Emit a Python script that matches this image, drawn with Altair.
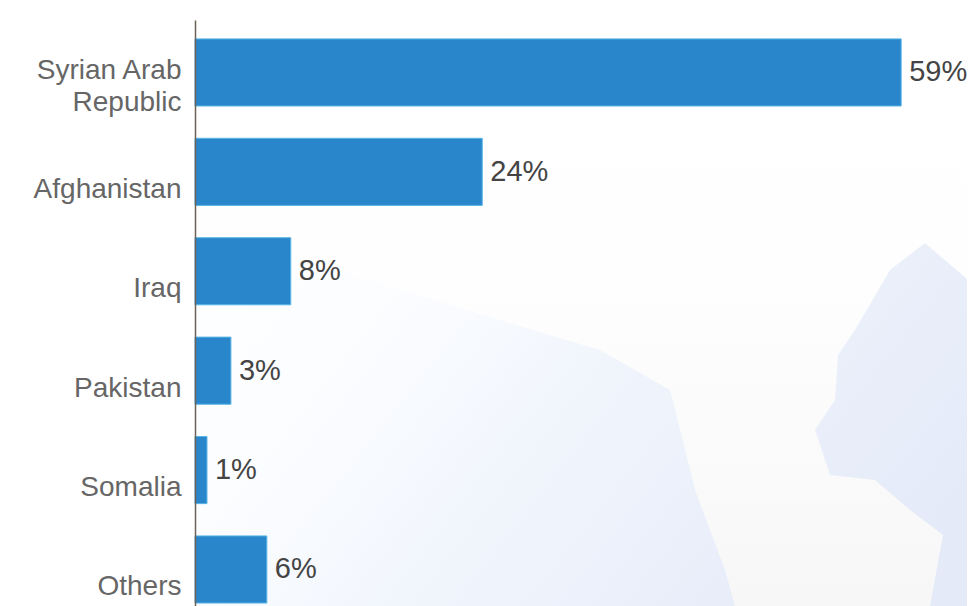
import altair as alt
import pandas as pd

countries = ["Syrian Arab Republic", "Afghanistan", "Iraq", "Pakistan", "Somalia", "Others"]
values = [59, 24, 8, 3, 1, 6]
texts = ["59%", "24%", "8%", "3%", "1%", "6%"]
land_x = [195, 300, 600, 670, 680, 695, 725, 735, 930, 943, 910, 875, 830, 815, 835, 838, 855, 890, 925, 967]
land_y = [230, 260, 350, 390, 430, 490, 570, 606, 606, 535, 510, 480, 475, 430, 400, 355, 330, 270, 243, 279]

PLOT_W = 772
PLOT_H = 586

df = pd.DataFrame({"country": countries, "value": values, "text": texts})

backdrop = alt.Chart(pd.DataFrame({"a": [0]})).mark_rect(
    fill=alt.LinearGradient(
        gradient="linear", x1=0, y1=0.2, x2=1, y2=0.8,
        stops=[
            alt.GradientStop(offset=0.0, color="#ffffff"),
            alt.GradientStop(offset=0.3, color="#fcfdff"),
            alt.GradientStop(offset=0.6, color="#eff4fc"),
            alt.GradientStop(offset=1.0, color="#e4eaf8"),
        ],
    )
).encode(x=alt.value(0), x2=alt.value(PLOT_W), y=alt.value(0), y2=alt.value(PLOT_H))

ring = [[a, b] for a, b in zip(land_x, land_y)] + [[967, 20], [195, 20], [195, 230]]
land_geo = {"type": "Feature", "properties": {}, "geometry": {"type": "Polygon", "coordinates": [ring]}}
land_fill = (
    alt.Chart(alt.Data(values=[land_geo]))
    .mark_geoshape(
        fill=alt.LinearGradient(
            gradient="linear", x1=0, y1=0, x2=0, y2=1,
            stops=[
                alt.GradientStop(offset=0.0, color="#ffffff"),
                alt.GradientStop(offset=0.45, color="#fefefe"),
                alt.GradientStop(offset=1.0, color="#f7f7f8"),
            ],
        ),
        stroke=None,
    )
    .project(type="identity")
)

x = alt.X("value:Q", scale=alt.Scale(domain=[0, 64.5], nice=False), axis=None)
y = alt.Y(
    "country:N", sort=countries,
    scale=alt.Scale(paddingInner=0.325, paddingOuter=0.11, align=0.864),
    axis=alt.Axis(
        title=None, ticks=False, domainColor="#6b6257", domainWidth=1.5, labelFontSize=28,
        labelFont="Liberation Sans", labelColor="#666666", labelPadding=14,
        labelLimit=200, labelBaseline="middle", zindex=1,
        labelOffset={"condition": {"test": "datum.value == 'Syrian Arab Republic'", "value": -1}, "value": 18},
        labelExpr="datum.label == 'Syrian Arab Republic' ? ['Syrian Arab', 'Republic'] : datum.label",
        labelLineHeight=32,
    ),
)
bars = alt.Chart(df).mark_bar(color="#2a86cb", stroke="#56b4e6", strokeWidth=1).encode(x=x, y=y)
labels = alt.Chart(df).mark_text(
    align="left", dx=8, fontSize=29, font="Liberation Sans", color="#444444"
).encode(x=x, y=y, text="text:N")

chart = (
    alt.layer(backdrop, land_fill, bars + labels)
    .resolve_scale(x="independent", y="independent")
    .properties(
        width=PLOT_W, height=PLOT_H,
        padding={"left": 187, "right": 0, "top": 12, "bottom": 0},
        autosize=alt.AutoSizeParams(type="none"),
        background="#ffffff",
    )
    .configure_view(stroke=None)
)
chart.save("out.html", embed_options={"renderer": "svg", "actions": False})
